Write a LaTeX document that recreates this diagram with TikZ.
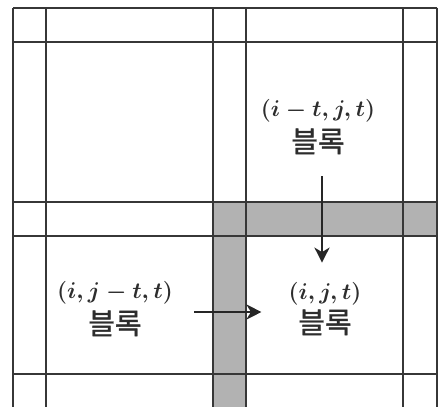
\documentclass[tikz,border=0pt]{standalone}
\usepackage{fontspec}
\usepackage{graphicx}
\usetikzlibrary{arrows.meta}
\newfontfamily\kofont[FakeBold=1.2]{Noto Sans CJK KR}
\definecolor{gridc}{RGB}{55,55,55}
\definecolor{bandc}{RGB}{178,178,178}
\definecolor{txtc}{RGB}{45,45,45}
\newcommand{\mlbl}[1]{\scalebox{1.1}{\boldmath$\mathstrut #1$}}
\newcommand{\klbl}{{\fontsize{29}{30}\selectfont\kofont 블록}}
\begin{document}
\begin{tikzpicture}[x=1pt,y=-1pt,
  gridline/.style={draw=gridc,line width=2pt},
  band/.style={fill=bandc,draw=none},
  lbl/.style={align=center,text=txtc,inner sep=0pt,font=\fontsize{20.74}{26}\selectfont},
  arr/.style={draw=black!85,line width=2.6pt,-{Stealth[length=15pt,width=15pt,inset=4.5pt]}}]
\useasboundingbox (0,0) rectangle (441,407);
% gray bands
\fill[band] (212.5,202) rectangle (437,235.5);
\fill[band] (212.5,235.5) rectangle (246,407);
% grid
\foreach \x in {13,45.5,212.5,246,403,437}
  \draw[gridline] (\x,7.5) -- (\x,407);
\foreach \y in {7.5,41.5,202,235.5,374}
  \draw[gridline] (13,\y) -- (437,\y);
% labels
\node[lbl] (top) at (318,127) {\mlbl{(i-t,j,t)}\\[5pt]\klbl};
\node[lbl] (lft) at (115,309) {\mlbl{(i,j-t,t)}\\[5pt]\klbl};
\node[lbl] (tgt) at (325,309) {\mlbl{(i,j,t)}\\[3pt]\klbl};
% arrows
\draw[arr,shorten <=22pt,shorten >=20pt] ([xshift=-3pt]top.south -| tgt.north) -- ([xshift=-3pt]tgt.north);
\draw[arr,shorten <=21pt,shorten >=27pt] ([yshift=-3pt]lft.east) -- ([yshift=-3pt]tgt.west);
\end{tikzpicture}
\end{document}
